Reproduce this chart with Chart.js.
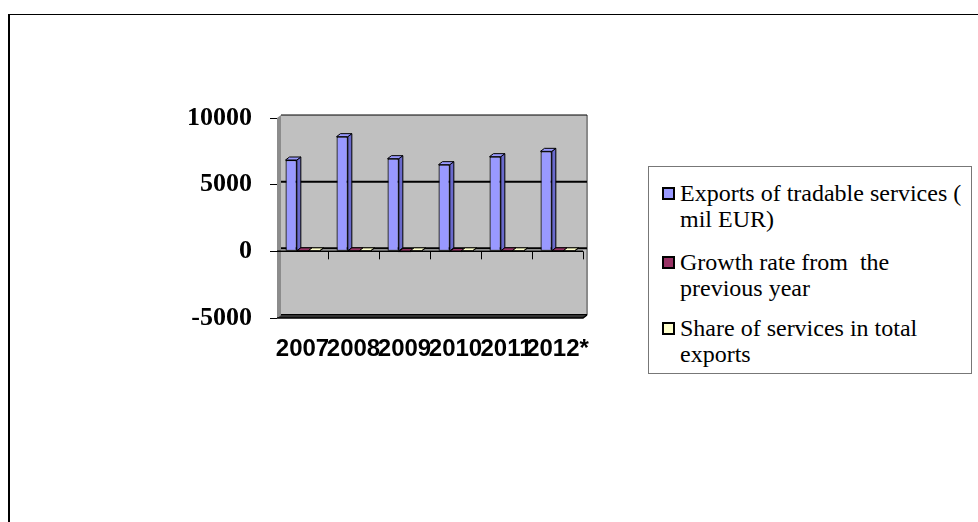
<!DOCTYPE html>
<html>
<head>
<meta charset="utf-8">
<script src="https://cdn.jsdelivr.net/npm/chart.js@4"></script>
<style>
  html, body { margin: 0; padding: 0; width: 978px; height: 522px; overflow: hidden; background: #fff; }
  #frame { position: absolute; left: 8px; top: 14px; width: 1200px; height: 800px;
           border-top: 1px solid #000; border-left: 2px solid #000; }
  #chart { position: absolute; left: 0; top: 0; }
  #legend { position: absolute; left: 648px; top: 166px; width: 322px; height: 206px;
            border: 1px solid #777; font-family: 'Liberation Serif', 'Times New Roman', serif;
            font-size: 24px; line-height: 26px; color: #000; background: #fff; }
  .item { position: absolute; left: 31px; white-space: pre; }
  .sw { position: absolute; left: -18px; top: 7px; width: 9px; height: 9px; border: 2px solid #000; }
</style>
</head>
<body>
<div id="frame"></div>
<canvas id="chart" width="978" height="522"></canvas>
<div id="legend"></div>
<script>
// Years on the category axis
const categories = ['2007', '2008', '2009', '2010', '2011', '2012*'];
// Exports of tradable services, mil EUR
const exportsServices = [6850, 8600, 6950, 6500, 7100, 7500];
// Growth rate from the previous year, %
const growthRate = [14, 26, -19, -7, 9, 6];
// Share of services in total exports, %
const shareOfServices = [21, 23, 24, 22, 20, 20];
// Value axis ticks
const yTicks = [-5000, 0, 5000, 10000];

const seriesNames = [
  ['Exports of tradable services (', 'mil EUR)'],
  ['Growth rate from  the', 'previous year'],
  ['Share of services in total', 'exports']
];
const seriesColors = ['#9999ff', '#993366', '#ffffcc'];
const sideColors   = ['#6a6acc', '#6b2447', '#cccc99'];

// depth of the 3-D box (pixels)
const DX = 4, DY = -3;

function poly(ctx, pts) {
  ctx.beginPath();
  ctx.moveTo(pts[0][0], pts[0][1]);
  for (let i = 1; i < pts.length; i++) ctx.lineTo(pts[i][0], pts[i][1]);
  ctx.closePath();
}

const box3d = {
  id: 'box3d',
  beforeDatasetsDraw(chart) {
    const { ctx, chartArea: a, scales: { y } } = chart;
    ctx.save();
    // back wall
    ctx.fillStyle = '#c0c0c0';
    ctx.fillRect(a.left + DX, a.top + DY, a.right - a.left, a.bottom - a.top);
    // left side wall
    ctx.fillStyle = '#8c8c8c';
    poly(ctx, [[a.left, a.top], [a.left + DX, a.top + DY], [a.left + DX, a.bottom + DY], [a.left, a.bottom]]);
    ctx.fill();
    // right edge of the wall
    ctx.strokeStyle = '#8a8a8a';
    ctx.lineWidth = 2;
    ctx.beginPath();
    ctx.moveTo(a.right + DX, a.top + DY);
    ctx.lineTo(a.right + DX, a.bottom + DY);
    ctx.stroke();
    // gridlines on the back wall
    yTicks.forEach(v => {
      const py = y.getPixelForValue(v) + DY;
      ctx.strokeStyle = '#000';
      ctx.lineWidth = (v === 10000) ? 1 : 2;
      ctx.beginPath();
      ctx.moveTo(a.left + DX, py);
      ctx.lineTo(a.right + DX, py);
      ctx.stroke();
    });
    // floor
    ctx.fillStyle = '#333';
    poly(ctx, [[a.left, a.bottom], [a.right, a.bottom], [a.right + DX, a.bottom + DY], [a.left + DX, a.bottom + DY]]);
    ctx.fill();
    ctx.strokeStyle = '#000';
    ctx.lineWidth = 1.5;
    ctx.beginPath();
    ctx.moveTo(a.left, a.bottom);
    ctx.lineTo(a.right, a.bottom);
    ctx.lineTo(a.right + DX, a.bottom + DY);
    ctx.stroke();
    // side and top faces of the columns
    chart.data.datasets.forEach((ds, i) => {
      chart.getDatasetMeta(i).data.forEach(bar => {
        const p = bar.getProps(['x', 'y', 'base', 'width'], true);
        const l = p.x - p.width / 2, r = p.x + p.width / 2;
        const t = Math.min(p.y, p.base), b = Math.max(p.y, p.base);
        ctx.lineWidth = 1;
        ctx.strokeStyle = '#000';
        ctx.fillStyle = sideColors[i];
        poly(ctx, [[r, t], [r + DX, t + DY], [r + DX, b + DY], [r, b]]);
        ctx.fill(); ctx.stroke();
        ctx.fillStyle = seriesColors[i];
        poly(ctx, [[l, t], [r, t], [r + DX, t + DY], [l + DX, t + DY]]);
        ctx.fill(); ctx.stroke();
      });
    });
    ctx.restore();
  },
  afterDatasetsDraw(chart) {
    const { ctx, chartArea: a, scales: { y } } = chart;
    const y0 = y.getPixelForValue(0);
    ctx.save();
    ctx.strokeStyle = '#000';
    ctx.lineWidth = 1.5;
    ctx.beginPath();
    ctx.moveTo(a.left, y0);
    ctx.lineTo(a.right, y0);
    ctx.stroke();
    // category boundary ticks below the zero line
    const step = (a.right - a.left) / categories.length;
    ctx.lineWidth = 1;
    for (let i = 1; i <= categories.length; i++) {
      const px = Math.round(a.left + step * i) + 0.5;
      ctx.beginPath();
      ctx.moveTo(px, y0);
      ctx.lineTo(px, y0 + 8);
      ctx.stroke();
    }
    ctx.restore();
  }
};

new Chart(document.getElementById('chart'), {
  type: 'bar',
  data: {
    labels: categories,
    datasets: [exportsServices, growthRate, shareOfServices].map((d, i) => ({
      label: seriesNames[i].join(' '),
      data: d,
      backgroundColor: seriesColors[i],
      borderColor: '#000',
      borderWidth: 1.2,
      borderSkipped: false,
      categoryPercentage: 0.667,
      barPercentage: 1.0
    }))
  },
  options: {
    responsive: false,
    animation: false,
    devicePixelRatio: 1,
    layout: { padding: { left: 0, top: 118, right: 395, bottom: 144 } },
    plugins: { legend: { display: false }, tooltip: { enabled: false } },
    scales: {
      x: {
        grid: { display: false, drawTicks: false },
        border: { display: false },
        ticks: {
          autoSkip: false, maxRotation: 0, minRotation: 0, padding: 17, color: '#000',
          font: { family: "'Liberation Sans', Arial, sans-serif", size: 24, weight: 'bold' }
        },
        afterFit(s) { s.height = 60; }
      },
      y: {
        min: -5000, max: 10000,
        afterBuildTicks(s) { s.ticks = yTicks.map(v => ({ value: v })); },
        grid: { drawOnChartArea: false, drawTicks: true, tickLength: 7, color: '#000' },
        border: { display: false },
        ticks: {
          padding: 18, color: '#000',
          callback: v => String(v),
          font: { family: "'Liberation Serif', 'Times New Roman', serif", size: 26, weight: 'bold' }
        },
        afterFit(s) { s.width = 277; }
      }
    }
  },
  plugins: [box3d]
});

// legend box
const legend = document.getElementById('legend');
const itemTops = [13, 82, 148];
seriesNames.forEach((lines, i) => {
  const item = document.createElement('div');
  item.className = 'item';
  item.style.top = itemTops[i] + 'px';
  const sw = document.createElement('span');
  sw.className = 'sw';
  sw.style.background = seriesColors[i];
  item.appendChild(sw);
  item.appendChild(document.createTextNode(lines.join('\n')));
  legend.appendChild(item);
});
</script>
</body>
</html>
